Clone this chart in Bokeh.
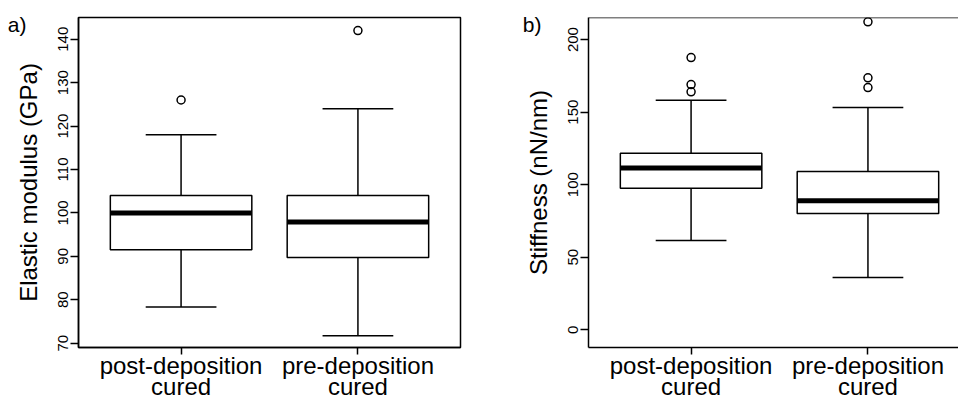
from bokeh.plotting import figure
from bokeh.models import FixedTicker, Range1d, Label, Span
from bokeh.layouts import row
from bokeh.embed import file_html
from bokeh.resources import INLINE

# ---------------- data ----------------
positions = [1, 2]
category_labels = ["post-deposition\ncured", "pre-deposition\ncured"]

# panel a: Elastic modulus (GPa)
a_lower_whisker = [78.3, 71.7]
a_q1 = [91.5, 89.7]
a_median = [100.0, 97.9]
a_q3 = [104.0, 104.0]
a_upper_whisker = [118.0, 124.0]
a_outlier_group = [1, 2]
a_outlier_values = [126.0, 142.0]
a_yticks = [70, 80, 90, 100, 110, 120, 130, 140]

# panel b: Stiffness (nN/nm)
b_lower_whisker = [61.5, 36.0]
b_q1 = [97.5, 80.1]
b_median = [111.5, 88.9]
b_q3 = [121.7, 109.0]
b_upper_whisker = [158.2, 153.2]
b_outlier_group = [1, 1, 1, 2, 2, 2]
b_outlier_values = [187.6, 169.0, 164.0, 212.2, 173.6, 166.9]
b_yticks = [0, 50, 100, 150, 200]

FONT = "Liberation Sans"
LW = 1.5
BOX_HALF = 0.4
CAP_HALF = 0.2


def panel_label(text, cx, cy):
    kw = dict(text=text, text_align="left", text_baseline="top",
              text_font=FONT, text_font_size="21px", text_color="black")
    try:
        return Label(x=cx, y=cy, x_units="canvas", y_units="canvas", **kw)
    except Exception:
        return Label(x=cx, y=cy, x_units="screen", y_units="screen", **kw)


def make_panel(width, border_left, border_right, x_end, y_start, y_end, yticks,
               ylabel, lw, q1, med, q3, uw, og, ov, plabel, plabel_x, plabel_side, outline):
    p = figure(width=width, frame_height=330, x_range=Range1d(0.42, x_end),
               y_range=Range1d(y_start, y_end), output_backend="svg",
               toolbar_location=None, min_border_left=border_left,
               min_border_right=border_right, min_border_top=17,
               min_border_bottom=52, background_fill_color="white",
               border_fill_color="white")
    p.grid.visible = False
    if outline:
        p.outline_line_color = "black"
        p.outline_line_width = LW
    else:
        p.outline_line_color = None
        p.add_layout(Span(location=y_end, dimension="width",
                          line_color="black", line_width=LW))

    # whiskers
    p.segment(x0=positions, y0=q3, x1=positions, y1=uw, line_color="black", line_width=LW)
    p.segment(x0=positions, y0=q1, x1=positions, y1=lw, line_color="black", line_width=LW)
    p.segment(x0=[x - CAP_HALF for x in positions], y0=uw,
              x1=[x + CAP_HALF for x in positions], y1=uw, line_color="black", line_width=LW)
    p.segment(x0=[x - CAP_HALF for x in positions], y0=lw,
              x1=[x + CAP_HALF for x in positions], y1=lw, line_color="black", line_width=LW)
    # boxes
    p.quad(left=[x - BOX_HALF for x in positions], right=[x + BOX_HALF for x in positions],
           bottom=q1, top=q3, fill_color="white", line_color="black", line_width=LW)
    # medians
    p.segment(x0=[x - BOX_HALF for x in positions], y0=med,
              x1=[x + BOX_HALF for x in positions], y1=med, line_color="black", line_width=5)
    # outliers
    p.scatter(x=og, y=ov, marker="circle", size=8, fill_color=None,
              line_color="black", line_width=LW)

    # x axis
    xa = p.xaxis[0]
    xa.ticker = FixedTicker(ticks=positions)
    xa.major_label_overrides = {pos: lab for pos, lab in zip(positions, category_labels)}
    xa.major_tick_out = 7
    xa.major_tick_in = 0
    xa.minor_tick_line_color = None
    xa.major_label_text_font = FONT
    xa.major_label_text_font_size = "24px"
    xa.major_label_text_line_height = 0.78
    xa.major_label_text_color = "black"
    xa.major_label_standoff = -3
    xa.axis_line_width = LW
    xa.major_tick_line_width = LW
    xa.axis_line_color = "black"
    xa.major_tick_line_color = "black"

    # y axis
    ya = p.yaxis[0]
    ya.ticker = FixedTicker(ticks=yticks)
    ya.major_label_orientation = "vertical"
    ya.major_tick_out = 8
    ya.major_tick_in = 0
    ya.minor_tick_line_color = None
    ya.major_label_text_font = FONT
    ya.major_label_text_font_size = "15px"
    ya.major_label_text_color = "black"
    ya.major_label_standoff = 2
    ya.axis_label = ylabel
    ya.axis_label_text_font = FONT
    ya.axis_label_text_font_size = "24px"
    ya.axis_label_text_font_style = "normal"
    ya.axis_label_text_color = "black"
    ya.axis_label_standoff = 14
    ya.axis_line_width = LW
    ya.major_tick_line_width = LW
    ya.axis_line_color = "black"
    ya.major_tick_line_color = "black"

    # panel label, placed in a side panel with spare room so it is not clipped
    p.add_layout(panel_label(plabel, plabel_x, 12.5), plabel_side)
    return p


pa = make_panel(480, 78, 20, 2.58, 69.0, 145.0, a_yticks, "Elastic modulus (GPa)",
                a_lower_whisker, a_q1, a_median, a_q3, a_upper_whisker,
                a_outlier_group, a_outlier_values, "a)", 7.3, "right", True)
pb = make_panel(478, 108, 0, 2.512, -12.2, 215.2, b_yticks, "Stiffness (nN/nm)",
                b_lower_whisker, b_q1, b_median, b_q3, b_upper_whisker,
                b_outlier_group, b_outlier_values, "b)", 42.3, "left", False)

try:
    from bokeh.models import GlobalInlineStyleSheet
    sheets = [GlobalInlineStyleSheet(css="html, body { overflow: hidden !important; }")]
except Exception:
    sheets = []

layout = row(pa, pb, stylesheets=sheets)
open("out.html", "w").write(file_html(layout, INLINE))
